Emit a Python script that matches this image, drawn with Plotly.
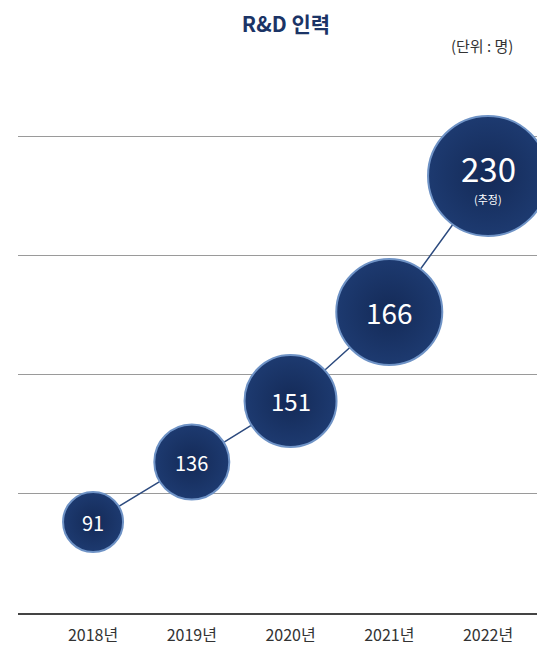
import plotly.graph_objects as go

# R&D headcount by year (2022 is an estimate)
years = ["2018년", "2019년", "2020년", "2021년", "2022년"]
headcount = [91, 136, 151, 166, 230]
notes = ["", "", "", "", "(추정)"]
# bubble heights on the chart, in gridline units
heights = [0.763, 1.266, 1.778, 2.524, 3.665]

NAVY = "#1b3466"
bubble_px = [60, 75, 92, 106, 120]
label_px = [20, 20, 24, 28, 33]

fig = go.Figure()

fig.add_trace(
    go.Scatter(
        x=years,
        y=heights,
        mode="lines+markers",
        line=dict(color="#2c4a7e", width=1.5),
        marker=dict(
            size=bubble_px,
            color="#1d3a70",
            gradient=dict(type="radial", color="#142a57"),
            line=dict(color="#6f93c6", width=2),
            opacity=1,
        ),
        cliponaxis=False,
        hoverinfo="skip",
        showlegend=False,
    )
)

# value labels inside the bubbles
for i, (yr, h, v, note) in enumerate(zip(years, heights, headcount, notes)):
    fig.add_annotation(
        x=yr,
        y=h,
        text=str(v),
        showarrow=False,
        yshift=8 if note else 0,
        font=dict(family="Noto Sans CJK KR", size=label_px[i], color="white"),
    )
    if note:
        fig.add_annotation(
            x=yr,
            y=h,
            text=note,
            showarrow=False,
            yshift=-23,
            font=dict(family="Noto Sans CJK KR", size=11, color="white"),
        )

fig.add_annotation(
    xref="paper",
    yref="paper",
    x=1,
    y=1,
    xanchor="right",
    yanchor="middle",
    xshift=-38,
    yshift=55,
    text="(단위 : 명)",
    showarrow=False,
    font=dict(family="Noto Sans CJK KR", size=15, color="#333333"),
)

fig.update_layout(
    width=545,
    height=648,
    margin=dict(l=10, r=0, t=92, b=43),
    paper_bgcolor="white",
    plot_bgcolor="white",
    title=dict(
        text="<b>R&D 인력</b>",
        x=0.51,
        xanchor="center",
        y=0.975,
        yanchor="middle",
        font=dict(family="Noto Sans CJK KR", size=21, color=NAVY),
    ),
    font=dict(family="Noto Sans CJK KR", color="#333333"),
)

fig.update_xaxes(
    type="category",
    range=[-0.76, 4.658],
    showgrid=False,
    showline=True,
    linecolor="#444444",
    linewidth=1.5,
    ticks="",
    ticklabelstandoff=7,
    tickfont=dict(size=16, color="#333333"),
    fixedrange=True,
)
fig.update_yaxes(
    range=[0, 4.302],
    dtick=1,
    showgrid=True,
    gridcolor="#9a9a9a",
    gridwidth=1,
    zeroline=False,
    showticklabels=False,
    fixedrange=True,
)

fig.write_html("out.html")
